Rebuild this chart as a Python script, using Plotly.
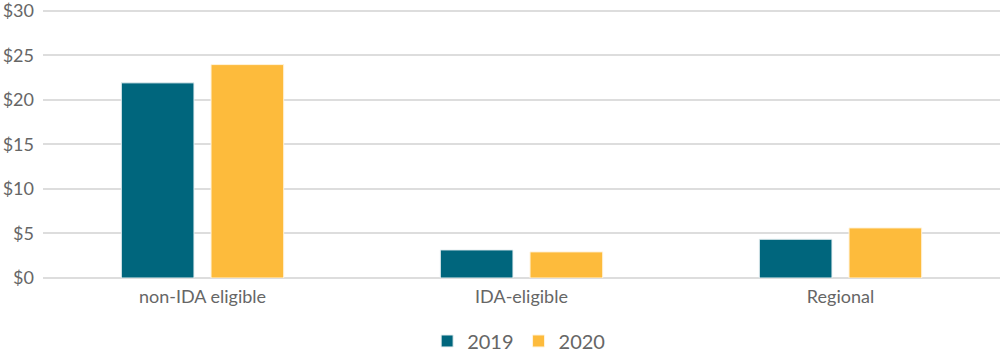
import plotly.graph_objects as go

categories = ["non-IDA eligible", "IDA-eligible", "Regional"]
values_2019 = [21.9, 3.15, 4.35]
values_2020 = [23.95, 2.93, 5.62]
tick_vals = [0, 5, 10, 15, 20, 25, 30]
tick_text = ["$0", "$5", "$10", "$15", "$20", "$25", "$30"]

fig = go.Figure()
fig.add_trace(go.Bar(name="2019", x=categories, y=values_2019,
                     marker=dict(color="#00667d", line=dict(color="#e8f0f2", width=1))))
fig.add_trace(go.Bar(name="2020", x=categories, y=values_2020,
                     marker=dict(color="#fdbb3c", line=dict(color="#fff3dc", width=1))))

fig.update_layout(
    width=1000, height=355,
    margin=dict(l=43, r=0, t=8, b=77, autoexpand=False),
    paper_bgcolor="white", plot_bgcolor="white",
    barmode="group", bargap=0.4375, bargroupgap=0.19,
    font=dict(family="Lato", color="#666666", size=18),
    legend=dict(orientation="h", x=0.497, xanchor="center", y=-0.161, yanchor="top",
                font=dict(size=20), itemwidth=30, traceorder="normal"),
    showlegend=True,
)
fig.update_yaxes(range=[0, 30.3], tickvals=tick_vals, ticktext=tick_text,
                 showgrid=True, gridcolor="#dddddd", gridwidth=2,
                 zeroline=True, zerolinecolor="#dddddd", zerolinewidth=2,
                 ticks="", ticklabelstandoff=8, showline=False, automargin=False,
                 ticklabeloverflow="allow", tickfont=dict(size=18))
fig.update_xaxes(showline=False, ticks="", ticklabelstandoff=6, automargin=False,
                 tickfont=dict(size=18))

fig.write_html("out.html", config={"displayModeBar": False},
               post_script="document.body.style.margin='0';document.body.style.overflow='hidden';")
